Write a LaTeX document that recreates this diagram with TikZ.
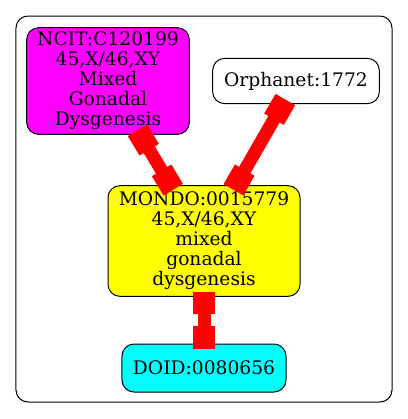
\documentclass[tikz,border=0pt]{standalone}
\usepackage{fontspec}
\setmainfont{DejaVu Serif}
\usetikzlibrary{calc}
\definecolor{ncitfill}{RGB}{255,0,255}
\definecolor{doidfill}{RGB}{0,255,255}
\definecolor{mondofill}{RGB}{255,255,0}

\begin{document}
\begin{tikzpicture}[x=0.75pt, y=-0.75pt,
	termbox/.style={draw, rounded corners=9pt, line width=0.75pt, align=center, inner sep=2pt, font=\fontsize{14}{15}\selectfont},
	link/.style={draw=red, line width=9.75pt},
	linkend/.style={draw=red, line width=17pt}]
			\useasboundingbox (0,0) rectangle (408,419);
			% Riquadro esterno
			\draw[rounded corners=9pt, line width=0.75pt] (16,16) rectangle (392,402);
			
			% Nodi
			\node[termbox, fill=ncitfill, minimum width=122pt, minimum height=80pt] (ncit) at (108,81) {NCIT:C120199\\45,X/46,XY\\Mixed\\Gonadal\\Dysgenesis};
			\node[termbox, fill=white, minimum width=125pt, minimum height=34pt] (orpha) at (296,81) {Orphanet:1772};
			\node[termbox, fill=mondofill, minimum width=144pt, minimum height=83pt] (mondo) at (204,241) {MONDO:0015779\\45,X/46,XY\\mixed\\gonadal\\dysgenesis};
			\node[termbox, fill=doidfill, minimum width=123pt, minimum height=36pt] (doid) at (204,368) {DOID:0080656};
			
			% Collegamenti con estremi a blocco
			\foreach \a/\b in {ncit/mondo, orpha/mondo, mondo/doid} {
				\path (\a) -- (\b) coordinate[pos=0] (s) coordinate[pos=1] (e);
				\draw[link] (s) -- (e);
				\draw[linkend] ($(s)!-4pt!(e)$) -- ($(s)!13pt!(e)$);
				\draw[linkend] ($(e)!-4pt!(s)$) -- ($(e)!13pt!(s)$);
			}
		\end{tikzpicture}
\end{document}
